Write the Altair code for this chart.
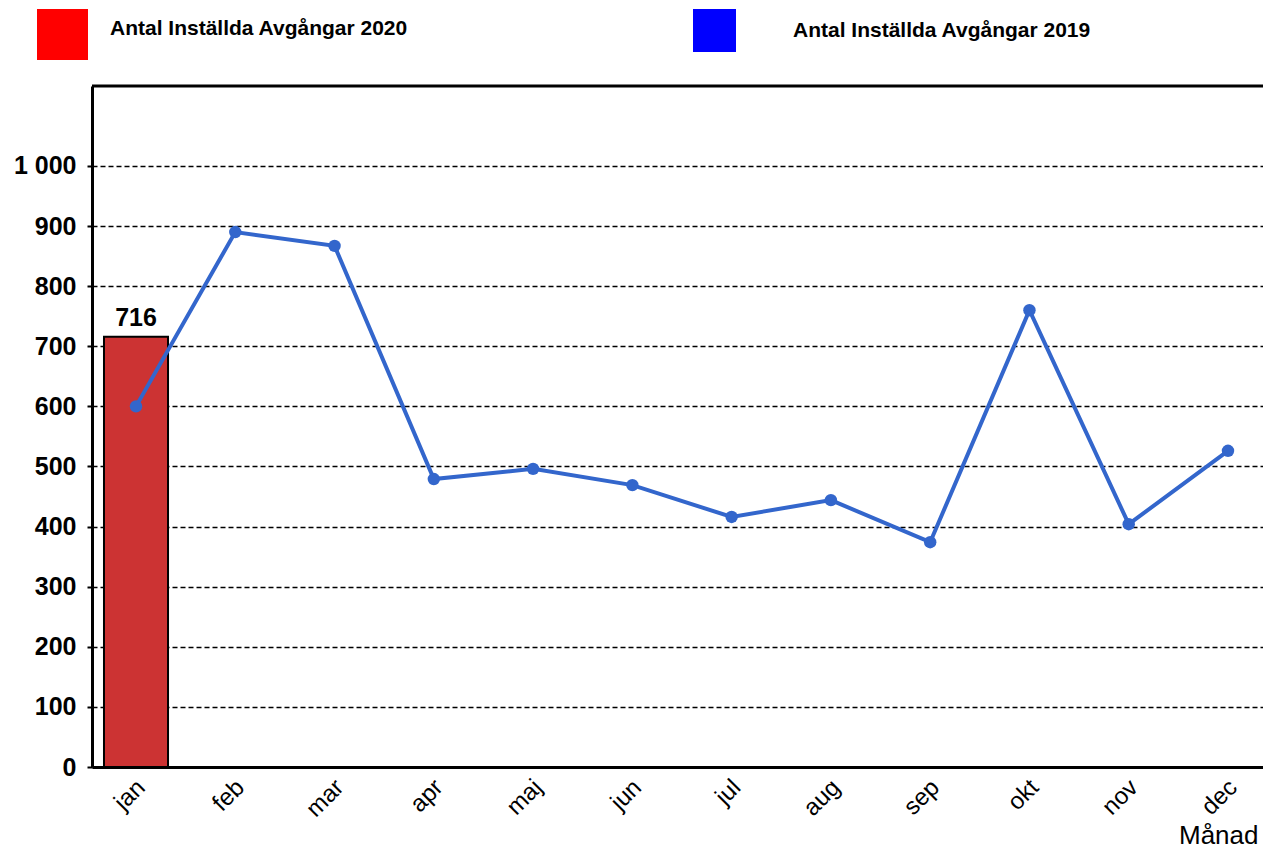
import altair as alt
import pandas as pd

months = ['jan', 'feb', 'mar', 'apr', 'maj', 'jun', 'jul', 'aug', 'sep', 'okt', 'nov', 'dec']
values_2019 = [600, 890, 867, 479, 496, 469, 416, 444, 374, 760, 404, 526]
months_2020 = ['jan']
values_2020 = [716]
label_2020 = 'Antal Inställda Avgångar 2020'
label_2019 = 'Antal Inställda Avgångar 2019'
y_ticks = [0, 100, 200, 300, 400, 500, 600, 700, 800, 900, 1000]

df19 = pd.DataFrame({'Månad': months, 'Antal': values_2019, 'Serie': label_2019})
df20 = pd.DataFrame({'Månad': months_2020, 'Antal': values_2020, 'Serie': label_2020})

FONT = 'Liberation Sans'
W, H = 1171, 681

x_scale = alt.Scale(domain=months, paddingInner=0.355, paddingOuter=0.0755, align=0.8)
y_scale = alt.Scale(domain=[0, 1133], nice=False, zero=True)

x_axis = alt.Axis(
    title='Månad', labelAngle=-45, labelFontSize=24, labelFont=FONT, labelColor='black',
    ticks=False, domainColor='black', domainWidth=3, labelPadding=8, labelOffset=-3, grid=False,
    titleFont=FONT, titleFontSize=26, titleFontWeight='normal', titleColor='black',
    titleAnchor='end', titleAlign='right', titleX=W - 5, titleY=76, titleBaseline='alphabetic',
)
y_axis = alt.Axis(
    title=None, values=y_ticks,
    labelExpr="replace(format(datum.value, ','), ',', ' ')",
    labelFont=FONT, labelFontSize=25, labelFontWeight='bold', labelColor='black',
    labelPadding=11, tickColor='black', tickWidth=2, tickSize=5,
    domainColor='black', domainWidth=3,
    grid=True, gridColor='black', gridDash=[5, 3], gridWidth=1.6,
)

x_enc = alt.X('Månad:N', scale=x_scale, sort=months, axis=x_axis)
y_enc = alt.Y('Antal:Q', scale=y_scale, axis=y_axis)

bars = alt.Chart(df20).mark_bar(color='#CC3333', stroke='black', strokeWidth=2).encode(
    x=x_enc, y=y_enc
)
bar_text = alt.Chart(df20).mark_text(
    dy=-6, baseline='bottom', font=FONT, fontSize=25, fontWeight='bold', color='black'
).encode(x=x_enc, y=y_enc, text='Antal:Q')

line = alt.Chart(df19).mark_line(
    color='#3366CC', strokeWidth=4,
    point=alt.OverlayMarkDef(filled=True, size=155, color='#3366CC', opacity=1),
).encode(x=x_enc, y=y_enc)

frame_top = alt.Chart(pd.DataFrame({'f': [0]})).mark_rule(color='black', strokeWidth=3).encode(
    y=alt.value(0), x=alt.value(0), x2=alt.value(W)
)

leg20 = alt.Chart(df20).transform_filter('false').mark_square().encode(
    color=alt.Color(
        'Serie:N', scale=alt.Scale(domain=[label_2020], range=['#FF0000']),
        legend=alt.Legend(
            title=None, orient='none', legendX=-55, legendY=-77, symbolType='square',
            symbolSize=2601, symbolStrokeWidth=0, symbolOpacity=1, symbolFillColor='#FF0000',
            labelFont=FONT, labelFontSize=21, labelFontWeight='bold', labelColor='black',
            labelOffset=22, padding=0, labelLimit=0, labelBaseline='alphabetic',
        ),
    )
)
leg19 = alt.Chart(df19).transform_filter('false').mark_square().encode(
    fill=alt.Fill(
        'Serie:N', scale=alt.Scale(domain=[label_2019], range=['#0000FF']),
        legend=alt.Legend(
            title=None, orient='none', legendX=601, legendY=-77, symbolType='square',
            symbolSize=1849, symbolStrokeWidth=0, symbolOpacity=1,
            labelFont=FONT, labelFontSize=21, labelFontWeight='bold', labelColor='black',
            labelOffset=57, padding=0, labelLimit=0,
        ),
    )
)

chart = alt.layer(bars, bar_text, line, frame_top, leg20, leg19).properties(
    width=W, height=H,
    autosize=alt.AutoSizeParams(type='none'),
    padding={'left': 84, 'top': 78, 'right': 0, 'bottom': 86},
    background='white',
).configure_view(stroke=None)

chart.save('out.html', embed_options={'renderer': 'svg', 'actions': False})
